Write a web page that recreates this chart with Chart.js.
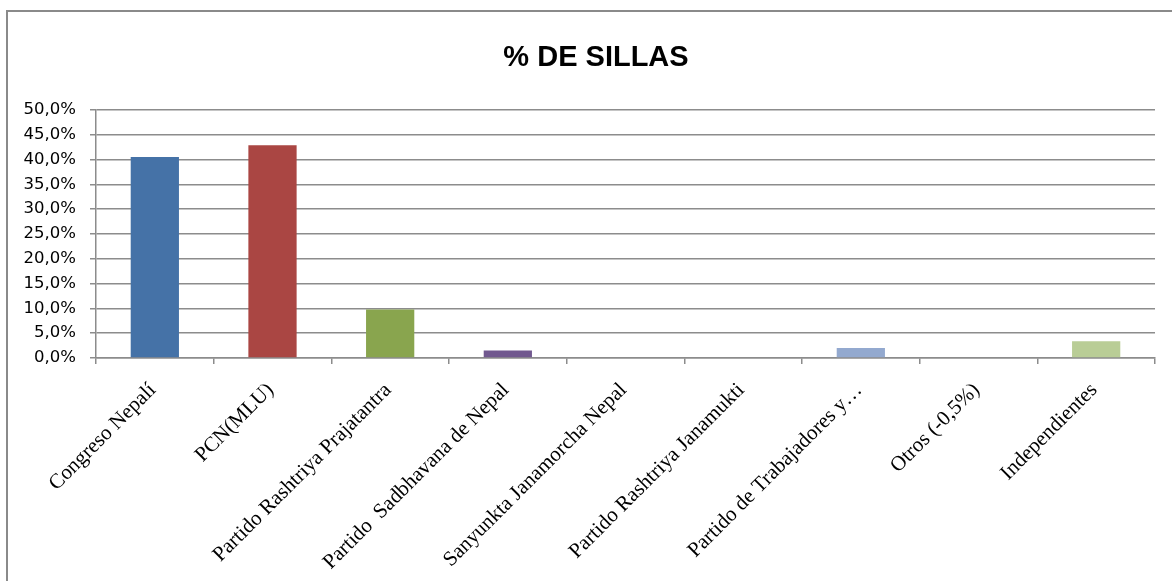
<!DOCTYPE html>
<html>
<head>
<meta charset="utf-8">
<title>% DE SILLAS</title>
<script src="https://cdn.jsdelivr.net/npm/chart.js@4.4.1/dist/chart.umd.min.js"></script>
<style>
  body { margin: 0; background: #fff; }
  #wrap { position: relative; width: 1172px; height: 581px; overflow: hidden; }
  #frame {
    position: absolute; left: 6px; top: 10px; width: 1200px; height: 600px;
    border-left: 2px solid #8a8a8a; border-top: 2px solid #8a8a8a;
    pointer-events: none;
  }
  canvas { position: absolute; left: 0; top: 0; }
</style>
</head>
<body>
<div id="wrap">
  <canvas id="chart" width="1172" height="581"></canvas>
  <div id="frame"></div>
</div>
<script>
// --- data ---
const categories = [
  'Congreso Nepalí',
  'PCN(MLU)',
  'Partido Rashtriya Prajatantra',
  'Partido  Sadbhavana de Nepal',
  'Sanyunkta Janamorcha Nepal',
  'Partido Rashtriya Janamukti',
  'Partido de Trabajadores y…',
  'Otros (-0,5%)',
  'Independientes'
];
const seatShares = [40.5, 42.9, 9.8, 1.5, 0, 0, 2.0, 0, 3.4];
const barColors = ['#4572A7', '#AA4643', '#89A54E', '#71588F', '#4198AF', '#DB843D', '#93A9CF', '#D19392', '#B9CD96'];
const yTicks = [0, 5, 10, 15, 20, 25, 30, 35, 40, 45, 50];
const chartTitle = '% DE SILLAS';

const gridGrey = '#8c8c8c';

// title drawn by hand so it can sit where Excel put it (not centred on the plot)
const titlePlugin = {
  id: 'excelTitle',
  afterDraw(chart) {
    const c = chart.ctx;
    c.save();
    c.fillStyle = '#000';
    c.font = "bold 29px 'Liberation Sans', Arial, sans-serif";
    c.textAlign = 'center';
    c.textBaseline = 'alphabetic';
    c.fillText(chartTitle, 596, 66);
    c.restore();
  }
};

const ctx = document.getElementById('chart');

new Chart(ctx, {
  type: 'bar',
  data: {
    labels: categories,
    datasets: [{
      label: chartTitle,
      data: seatShares,
      backgroundColor: barColors,
      borderWidth: 0,
      barPercentage: 0.41,
      categoryPercentage: 1
    }]
  },
  options: {
    responsive: false,
    animation: false,
    layout: { padding: { left: 0, right: 17, top: 110, bottom: 0 } },
    plugins: {
      legend: { display: false },
      tooltip: { enabled: false },
      title: { display: false }
    },
    scales: {
      x: {
        grid: {
          display: true,
          drawOnChartArea: false,
          offset: true,
          color: gridGrey,
          tickColor: gridGrey,
          tickLength: 6,
          lineWidth: 1.5
        },
        border: { display: true, color: gridGrey, width: 1.5 },
        ticks: {
          autoSkip: false,
          minRotation: 45,
          maxRotation: 45,
          padding: 14,
          labelOffset: -2,
          color: '#000',
          font: { family: "'Liberation Serif', 'Times New Roman', serif", size: 21 }
        },
        afterFit: (scale) => { scale.height = 223; }
      },
      y: {
        min: 0,
        max: 50,
        afterBuildTicks: (scale) => {
          scale.ticks = yTicks.map(v => ({ value: v }));
        },
        grid: {
          color: gridGrey,
          tickColor: gridGrey,
          tickLength: 6,
          lineWidth: 1.5
        },
        border: { display: true, color: gridGrey, width: 1.5 },
        ticks: {
          padding: 14,
          color: '#000',
          font: { family: "'DejaVu Sans', sans-serif", size: 16.5 },
          callback: (v) => v.toFixed(1).replace('.', ',') + '%'
        },
        afterFit: (scale) => { scale.width = 96; }
      }
    }
  },
  plugins: [titlePlugin]
});
</script>
</body>
</html>
